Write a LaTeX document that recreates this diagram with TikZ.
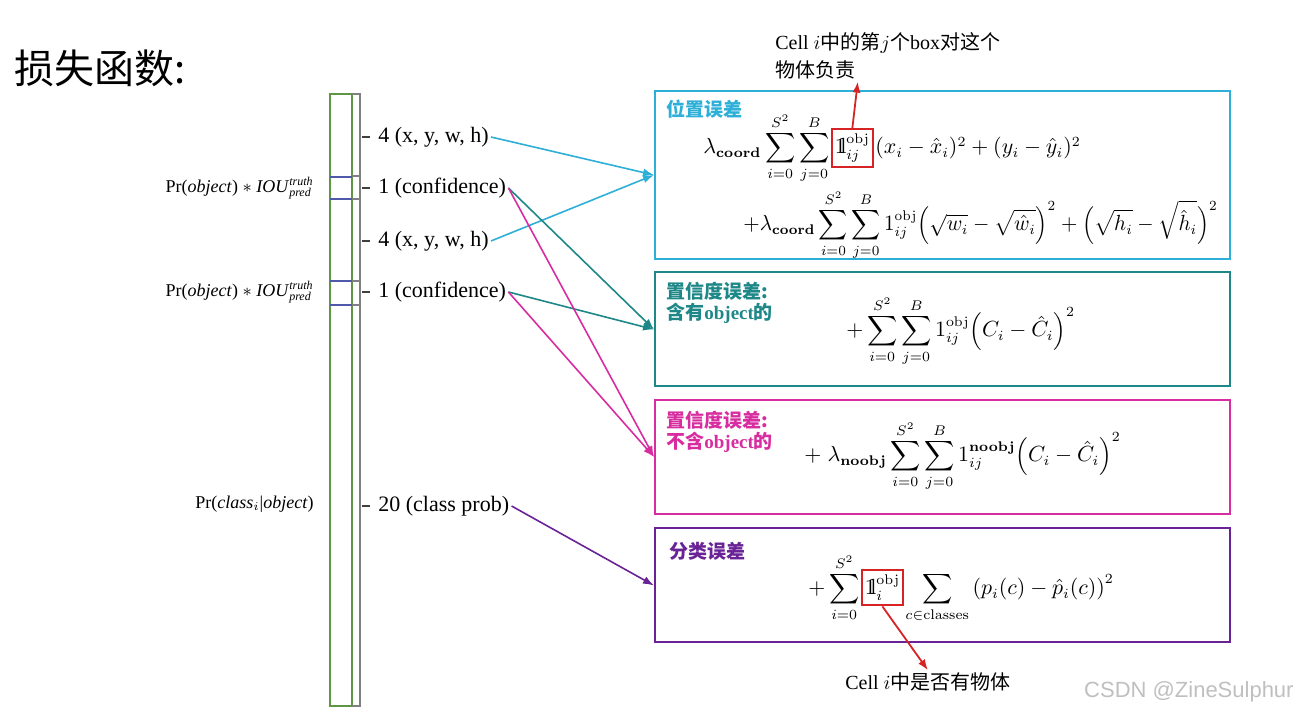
\documentclass[tikz,border=0pt]{standalone}
\usepackage[no-math]{fontspec}
\setmainfont{Liberation Serif}
\newfontfamily\cjk{Noto Sans CJK SC}
\newfontfamily\wmfont{Liberation Sans}
\usepackage{amsmath,amssymb}
\usetikzlibrary{arrows.meta, positioning, calc}

\newcommand{\indic}{\mathrm{1\mkern-4.5mu l}}

\definecolor{loccol}{RGB}{45,175,215}
\definecolor{confcol}{RGB}{30,135,135}
\definecolor{noobjcol}{RGB}{215,45,160}
\definecolor{clscol}{RGB}{105,35,150}
\definecolor{markcol}{RGB}{215,35,35}
\definecolor{colgreen}{RGB}{95,150,70}
\definecolor{colblue}{RGB}{80,90,170}

\begin{document}
\begin{tikzpicture}[
    x=0.5pt, y=-0.5pt,
    font=\fontsize{11}{13}\selectfont,
    every node/.style={inner sep=1pt},
    lossbox/.style={draw=#1, line width=1pt, minimum width=287.5pt, minimum height=57pt},
    boxlabel/.style={text=#1, anchor=north west, align=left, font=\cjk\bfseries\fontsize{9.5}{10.5}\selectfont},
    fmla/.style={anchor=base west, inner sep=0.5pt, font=\fontsize{10.5}{12}\selectfont},
    markbox/.style={draw=markcol, line width=1pt, anchor=base west, inner xsep=1.5pt, inner ysep=2.5pt, font=\fontsize{10.5}{12}\selectfont},
    partlabel/.style={anchor=west, font=\fontsize{11}{13}\selectfont},
    outlabel/.style={anchor=east, font=\fontsize{9}{11}\selectfont},
    note/.style={anchor=west, font=\fontsize{10}{12}\selectfont},
    link/.style={-{Latex[length=5.5pt, width=4pt]}, line width=0.8pt, draw=#1},
    markarrow/.style={-{Latex[length=5.5pt, width=4pt]}, line width=0.9pt, draw=markcol}
  ]
  \useasboundingbox (0,0) rectangle (1297,715);

  % Title
  \node[anchor=west, font=\cjk\fontsize{20}{24}\selectfont] (title) at (12,68) {损失函数:};

  % Output vector column
  \draw[colgreen, line width=0.8pt] (330,94) rectangle (352,706);
  \foreach \y in {177,199,281,305} \draw[colblue, line width=0.8pt] (330,\y) -- (352,\y);
  \draw[gray, line width=0.6pt] (352,94) -- (360,94) -- (360,706) -- (352,706);
  \foreach \y in {176,199,281,305} \draw[gray, line width=0.6pt] (352,\y) -- (360,\y);
  \foreach \y in {137,188,241,292,506} \draw[black!75, line width=0.7pt] (362,\y) -- (370,\y);

  % Column parts
  \node[partlabel] (xywhA) at (376,137) {4 (x, y, w, h)};
  \node[partlabel] (confA) at (376,188) {1 (confidence)};
  \node[partlabel] (xywhB) at (376,241) {4 (x, y, w, h)};
  \node[partlabel] (confB) at (376,292) {1 (confidence)};
  \node[partlabel] (cls) at (376,506) {20 (class prob)};

  \node[outlabel] (iouA) at (316,188) {Pr(\textit{object}) $\ast$ \textit{IOU}$^{\textit{truth}}_{\textit{pred}}$};
  \node[outlabel] (iouB) at (316,292) {Pr(\textit{object}) $\ast$ \textit{IOU}$^{\textit{truth}}_{\textit{pred}}$};
  \node[outlabel] (clsprob) at (316,504) {Pr(\textit{class}$_i$|\textit{object})};

  % Loss boxes
  \node[lossbox=loccol, minimum height=84pt] (locbox) at (942.5,175) {};
  \node[lossbox=confcol] (confbox) at (942.5,329.5) {};
  \node[lossbox=noobjcol] (noobjbox) at (942.5,457) {};
  \node[lossbox=clscol] (clsbox) at (942.5,585.5) {};

  \node[boxlabel=loccol] (loclbl) at ([shift={(10,8)}]locbox.north west) {位置误差};
  \node[boxlabel=confcol] (conflbl) at ([shift={(10,8)}]confbox.north west) {置信度误差:\\含有{\rmfamily object}的};
  \node[boxlabel=noobjcol] (noobjlbl) at ([shift={(10,10)}]noobjbox.north west) {置信度误差:\\不含{\rmfamily object}的};
  \node[boxlabel=clscol] (clslbl) at ([shift={(13,12)}]clsbox.north west) {分类误差};

  % Formulas
  \node[fmla] (lamA) at (702,154) {$\displaystyle\lambda_{\mathbf{coord}}\sum_{i=0}^{S^2}\sum_{j=0}^{B}$};
  \node[markbox] (indA) at (lamA.base east) {$\indic_{ij}^{\mathrm{obj}}$};
  \node[fmla] (xyA) at (indA.base east) {$(x_i-\hat{x}_i)^2+(y_i-\hat{y}_i)^2$};
  \node[fmla] (whA) at (742,231) {\scalebox{0.96}[1]{$\displaystyle+\lambda_{\mathbf{coord}}\sum_{i=0}^{S^2}\sum_{j=0}^{B}1_{ij}^{\mathrm{obj}}\Bigl(\sqrt{w_i}-\sqrt{\hat{w}_i}\Bigr)^2+\Bigl(\sqrt{h_i}-\sqrt{\hat{h}_i}\Bigr)^2$}};
  \node[fmla] (confF) at (845,337) {$\displaystyle+\sum_{i=0}^{S^2}\sum_{j=0}^{B}1_{ij}^{\mathrm{obj}}\Bigl(C_i-\hat{C}_i\Bigr)^2$};
  \node[fmla] (noobjF) at (803,462) {$\displaystyle+\;\lambda_{\mathbf{noobj}}\sum_{i=0}^{S^2}\sum_{j=0}^{B}1_{ij}^{\mathbf{noobj}}\Bigl(C_i-\hat{C}_i\Bigr)^2$};
  \node[fmla] (sumD) at (807,595) {$\displaystyle+\sum_{i=0}^{S^2}$};
  \node[markbox] (indD) at (sumD.base east) {$\indic_{i}^{\mathrm{obj}}$};
  \node[fmla] (clsF) at (indD.base east) {$\displaystyle\sum_{c\in\mathrm{classes}}\left(p_i(c)-\hat{p}_i(c)\right)^2$};

  % Notes
  \node[note] (noteA) at (773,43) {Cell $i${\cjk 中的第}$j${\cjk 个}box{\cjk 对这个}};
  \node[note, font=\cjk\fontsize{10}{12}\selectfont] (noteB) at (773,70) {物体负责};
  \node[note] (noteC) at (843,682) {Cell $i${\cjk 中是否有物体}};
  \node[anchor=east, text=gray!50, font=\wmfont\fontsize{11}{13}\selectfont] (wm) at (1296,692) {CSDN @ZineSulphur};

  % Arrows
  \draw[link=loccol] (xywhA.east) -- (locbox.west);
  \draw[link=loccol] (xywhB.east) -- (locbox.west);
  \draw[link=confcol] (confA.east) -- (confbox.west);
  \draw[link=confcol] (confB.east) -- (confbox.west);
  \draw[link=noobjcol] (confA.east) -- (noobjbox.west);
  \draw[link=noobjcol] (confB.east) -- (noobjbox.west);
  \draw[link=clscol] (cls.east) -- (clsbox.west);

  \draw[markarrow] (indA.north) -- (noteB.south east);
  \draw[markarrow] (indD.south) -- (noteC.north);

\end{tikzpicture}
\end{document}
